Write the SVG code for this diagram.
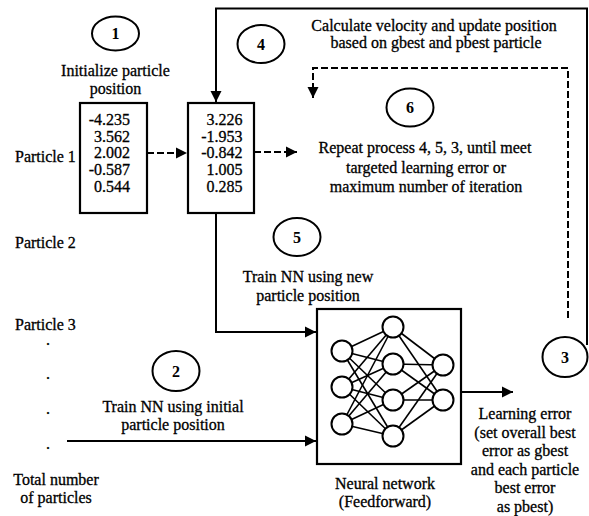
<svg xmlns="http://www.w3.org/2000/svg" width="589" height="516" viewBox="0 0 589 516">
<style>
text{font-family:"Liberation Serif","Times New Roman",serif;font-size:16px;fill:#000;stroke:#000;stroke-width:0.3}
.c{text-anchor:middle}
.r{text-anchor:end}
.num{font-size:16px;text-anchor:middle;font-weight:bold;stroke-width:0}
.step{fill:#fff;stroke:#000;stroke-width:2}
.box{fill:#fff;stroke:#000;stroke-width:2.2}
.ln{fill:none;stroke:#000;stroke-width:2}
.dash{fill:none;stroke:#000;stroke-width:2;stroke-dasharray:7 3}
.nnl{stroke:#000;stroke-width:1.6}
.nnn{fill:#fff;stroke:#000;stroke-width:2}
</style>
<defs>
<marker id="arr" markerUnits="userSpaceOnUse" markerWidth="12" markerHeight="12" viewBox="0 0 12 12" refX="11" refY="6" orient="auto">
<path d="M0,0.5 L11,6 L0,11.5 Z" fill="#000"/>
</marker>
</defs>
<rect width="589" height="516" fill="#fff"/>

<g id="connectors">
<polyline class="ln" points="587,345 587,8.5 216,8.5 216,102" marker-end="url(#arr)"/>
<polyline class="dash" points="568,318 568,68 313,68 313,98" marker-end="url(#arr)"/>
<line class="dash" x1="147" y1="153" x2="187" y2="153" marker-end="url(#arr)"/>
<line class="dash" x1="254" y1="152" x2="297" y2="152" marker-end="url(#arr)"/>
<polyline class="ln" points="216,213 216,332 316,332" marker-end="url(#arr)"/>
<line class="ln" x1="67" y1="441" x2="316" y2="441" marker-end="url(#arr)"/>
<line class="ln" x1="461" y1="392" x2="513" y2="392" marker-end="url(#arr)"/>
</g>

<g id="step-1">
<ellipse class="step" cx="115.5" cy="33.5" rx="23.5" ry="17"/>
<text class="num" x="115.5" y="39">1</text>
<text class="c" x="115.5" y="76">Initialize particle</text>
<text class="c" x="115.5" y="94">position</text>
</g>

<g id="box-initial">
<rect class="box" x="80" y="103" width="67" height="110"/>
<text class="r" x="130" y="125">-4.235</text>
<text class="r" x="130" y="141.7">3.562</text>
<text class="r" x="130" y="158.4">2.002</text>
<text class="r" x="130" y="175.1">-0.587</text>
<text class="r" x="130" y="191.8">0.544</text>
</g>

<g id="box-new">
<rect class="box" x="188" y="103" width="66" height="110"/>
<text class="r" x="242.5" y="125">3.226</text>
<text class="r" x="242.5" y="141.7">-1.953</text>
<text class="r" x="242.5" y="158.4">-0.842</text>
<text class="r" x="242.5" y="175.1">1.005</text>
<text class="r" x="242.5" y="191.8">0.285</text>
</g>

<g id="particles">
<text x="15" y="161.5">Particle 1</text>
<text x="15" y="248">Particle 2</text>
<text x="15" y="329.5">Particle 3</text>
<text class="c" x="48" y="345">.</text>
<text class="c" x="48" y="379">.</text>
<text class="c" x="48" y="414">.</text>
<text class="c" x="48" y="449">.</text>
<text class="c" x="56" y="485">Total number</text>
<text class="c" x="56" y="503">of particles</text>
</g>

<g id="step-4">
<ellipse class="step" cx="261" cy="44" rx="23.5" ry="19"/>
<text class="num" x="261" y="49.5">4</text>
<text class="c" x="434" y="30.5">Calculate velocity and update position</text>
<text class="c" x="436" y="47.5">based on gbest and pbest particle</text>
</g>

<g id="step-6">
<ellipse class="step" cx="410" cy="107.5" rx="23.5" ry="19"/>
<text class="num" x="410" y="113">6</text>
<text class="c" x="425" y="153">Repeat process 4, 5, 3, until meet</text>
<text class="c" x="426" y="172.5">targeted learning error or</text>
<text class="c" x="426" y="192">maximum number of iteration</text>
</g>

<g id="step-5">
<ellipse class="step" cx="297" cy="237" rx="23.5" ry="19"/>
<text class="num" x="297" y="242.5">5</text>
<text class="c" x="308" y="282">Train NN using new</text>
<text class="c" x="308" y="301">particle position</text>
</g>

<g id="step-2">
<ellipse class="step" cx="176" cy="371" rx="23.5" ry="20"/>
<text class="num" x="176" y="376.5">2</text>
<text class="c" x="173" y="411.5">Train NN using initial</text>
<text class="c" x="173" y="430">particle position</text>
</g>

<g id="neural-network">
<rect class="box" x="317" y="309" width="144" height="155"/>
<g class="nnl">
<line x1="342" y1="351" x2="393" y2="327"/><line x1="342" y1="351" x2="393" y2="364"/><line x1="342" y1="351" x2="393" y2="400"/><line x1="342" y1="351" x2="393" y2="436"/>
<line x1="342" y1="387" x2="393" y2="327"/><line x1="342" y1="387" x2="393" y2="364"/><line x1="342" y1="387" x2="393" y2="400"/><line x1="342" y1="387" x2="393" y2="436"/>
<line x1="342" y1="424" x2="393" y2="327"/><line x1="342" y1="424" x2="393" y2="364"/><line x1="342" y1="424" x2="393" y2="400"/><line x1="342" y1="424" x2="393" y2="436"/>
<line x1="393" y1="327" x2="443" y2="365"/><line x1="393" y1="327" x2="443" y2="400"/>
<line x1="393" y1="364" x2="443" y2="365"/><line x1="393" y1="364" x2="443" y2="400"/>
<line x1="393" y1="400" x2="443" y2="365"/><line x1="393" y1="400" x2="443" y2="400"/>
<line x1="393" y1="436" x2="443" y2="365"/><line x1="393" y1="436" x2="443" y2="400"/>
</g>
<circle class="nnn" cx="342" cy="351" r="10.5"/>
<circle class="nnn" cx="342" cy="387" r="10.5"/>
<circle class="nnn" cx="342" cy="424" r="10.5"/>
<circle class="nnn" cx="393" cy="327" r="10.5"/>
<circle class="nnn" cx="393" cy="364" r="10.5"/>
<circle class="nnn" cx="393" cy="400" r="10.5"/>
<circle class="nnn" cx="393" cy="436" r="10.5"/>
<circle class="nnn" cx="443" cy="365" r="10.5"/>
<circle class="nnn" cx="443" cy="400" r="10.5"/>
<text class="c" x="385" y="489">Neural network</text>
<text class="c" x="385" y="507">(Feedforward)</text>
</g>

<g id="step-3">
<ellipse class="step" cx="565" cy="357" rx="22.5" ry="20"/>
<text class="num" x="565" y="362.5">3</text>
<text class="c" x="525" y="419">Learning error</text>
<text class="c" x="525" y="437.5">(set overall best</text>
<text class="c" x="525" y="456">error as gbest</text>
<text class="c" x="525" y="474.5">and each particle</text>
<text class="c" x="525" y="493">best error</text>
<text class="c" x="525" y="511.5">as pbest)</text>
</g>
</svg>
